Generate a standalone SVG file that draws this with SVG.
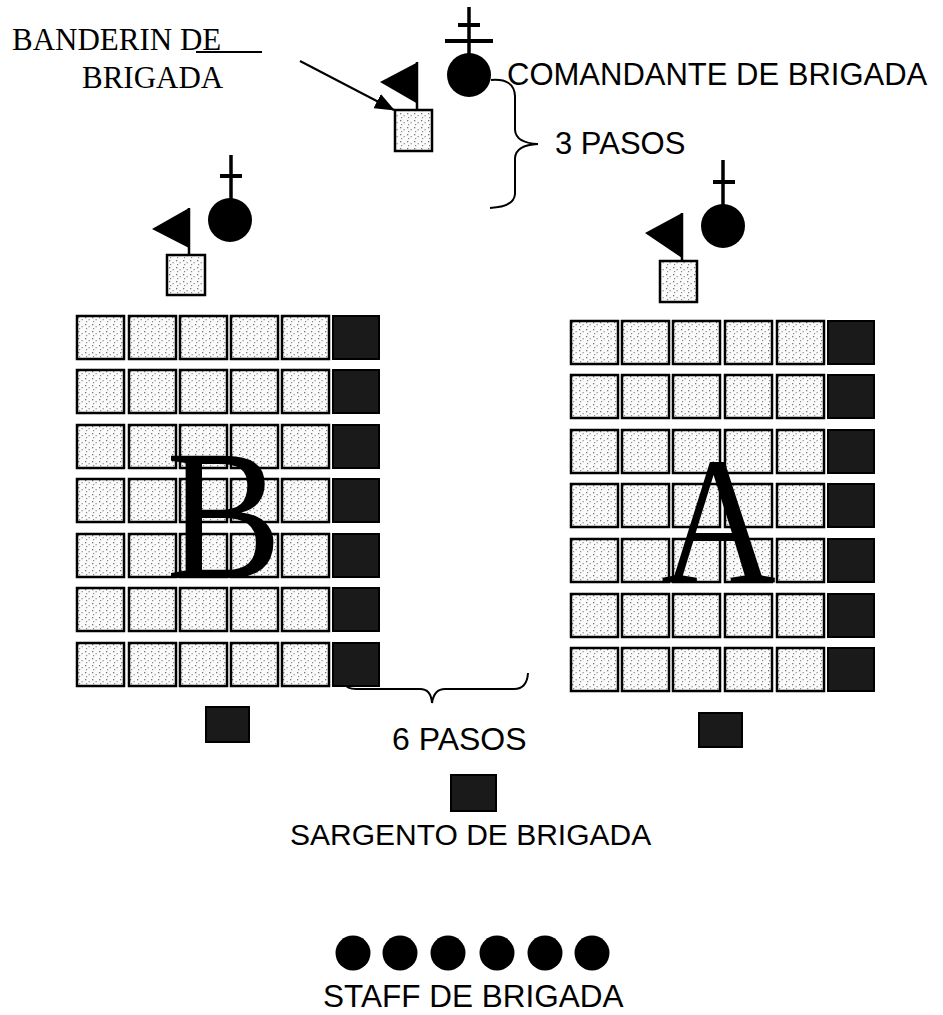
<svg xmlns="http://www.w3.org/2000/svg" xmlns:xlink="http://www.w3.org/1999/xlink" width="943" height="1015" viewBox="0 0 943 1015">
<style>
.sans{font-family:"Liberation Sans",Arial,sans-serif;fill:#000}
.serif{font-family:"Liberation Serif","Times New Roman",serif;fill:#000}
.light{fill:url(#stip);stroke:#000;stroke-width:2.5}
.dark{fill:#1a1a1a;stroke:#000;stroke-width:2}
.blk{fill:#000}
.ln{stroke:#000;fill:none}
</style>
<defs>
<pattern id="stip" width="7" height="7" patternUnits="userSpaceOnUse">
<rect width="7" height="7" fill="#fbfbfb"/>
<rect x="1" y="1" width="1.3" height="1.3" fill="#777"/>
<rect x="4.5" y="3" width="1.3" height="1.3" fill="#999"/>
<rect x="2" y="5" width="1.2" height="1.2" fill="#888"/>
</pattern>
<rect id="lc" width="47" height="43" class="light"/>
<rect id="dc" width="46" height="43" class="dark"/>
<marker id="ah" markerUnits="userSpaceOnUse" markerWidth="20" markerHeight="16" refX="19" refY="8" orient="auto">
<path d="M0,0 L20,8 L0,16 Z" fill="#000"/>
</marker>
</defs>
<rect width="943" height="1015" fill="#fff"/>

<g id="connectors">
<line class="ln" x1="300" y1="61" x2="394" y2="110" stroke-width="2" marker-end="url(#ah)"/>
<path class="ln" stroke-width="2" d="M491 80 Q514 78 515 96 L515 130 Q516 143 538 144 Q516 145 515 158 L515 194 Q514 207 490 208"/>
<path class="ln" stroke-width="2" d="M345 684 Q347 689 356 689 L420 689 Q431 689 432 703 Q434 689 445 689 L514 689 Q527 689 528 673"/>
</g>

<g id="banderin-label">
<text class="serif" x="12" y="50" font-size="31">BANDERIN DE</text>
<line class="ln" x1="196" y1="52" x2="262" y2="52" stroke-width="2"/>
<text class="serif" x="82" y="88" font-size="31">BRIGADA</text>
</g>

<g id="banderin-brigada">
<polygon class="blk" points="380,82 418,62 418,104"/>
<line class="ln" x1="417" y1="62" x2="417" y2="110" stroke-width="2.5"/>
<rect x="395" y="110" width="37" height="41" class="light"/>
</g>

<g id="comandante-brigada">
<line class="ln" x1="469" y1="7" x2="469" y2="55" stroke-width="3.5"/>
<line class="ln" x1="458" y1="25" x2="480" y2="25" stroke-width="4"/>
<line class="ln" x1="445" y1="41" x2="493" y2="41" stroke-width="4"/>
<circle class="blk" cx="469" cy="75" r="22"/>
<text class="sans" x="507" y="85" font-size="31">COMANDANTE DE BRIGADA</text>
</g>

<g id="label-3-pasos">
<text class="sans" x="555" y="154" font-size="31">3 PASOS</text>
</g>

<g id="jefe-b">
<line class="ln" x1="231" y1="155" x2="231" y2="200" stroke-width="3.5"/>
<line class="ln" x1="220" y1="176" x2="242" y2="176" stroke-width="4"/>
<circle class="blk" cx="230" cy="220" r="22"/>
<polygon class="blk" points="152,229 189,208 189,248"/>
<line class="ln" x1="189" y1="208" x2="189" y2="255" stroke-width="2.5"/>
<rect x="167" y="255" width="38" height="40" class="light"/>
</g>

<g id="jefe-a">
<line class="ln" x1="723" y1="160" x2="723" y2="206" stroke-width="3.5"/>
<line class="ln" x1="713" y1="182" x2="735" y2="182" stroke-width="4"/>
<circle class="blk" cx="723" cy="226" r="22"/>
<polygon class="blk" points="645,233 682,213 682,258"/>
<line class="ln" x1="682" y1="213" x2="682" y2="261" stroke-width="2.5"/>
<rect x="660" y="261" width="37" height="41" class="light"/>
</g>

<g id="seccion-b">
<use xlink:href="#lc" x="77" y="316"/><use xlink:href="#lc" x="129" y="316"/><use xlink:href="#lc" x="180" y="316"/><use xlink:href="#lc" x="231" y="316"/><use xlink:href="#lc" x="282" y="316"/><use xlink:href="#dc" x="333" y="316"/>
<use xlink:href="#lc" x="77" y="370"/><use xlink:href="#lc" x="129" y="370"/><use xlink:href="#lc" x="180" y="370"/><use xlink:href="#lc" x="231" y="370"/><use xlink:href="#lc" x="282" y="370"/><use xlink:href="#dc" x="333" y="370"/>
<use xlink:href="#lc" x="77" y="425"/><use xlink:href="#lc" x="129" y="425"/><use xlink:href="#lc" x="180" y="425"/><use xlink:href="#lc" x="231" y="425"/><use xlink:href="#lc" x="282" y="425"/><use xlink:href="#dc" x="333" y="425"/>
<use xlink:href="#lc" x="77" y="479"/><use xlink:href="#lc" x="129" y="479"/><use xlink:href="#lc" x="180" y="479"/><use xlink:href="#lc" x="231" y="479"/><use xlink:href="#lc" x="282" y="479"/><use xlink:href="#dc" x="333" y="479"/>
<use xlink:href="#lc" x="77" y="534"/><use xlink:href="#lc" x="129" y="534"/><use xlink:href="#lc" x="180" y="534"/><use xlink:href="#lc" x="231" y="534"/><use xlink:href="#lc" x="282" y="534"/><use xlink:href="#dc" x="333" y="534"/>
<use xlink:href="#lc" x="77" y="588"/><use xlink:href="#lc" x="129" y="588"/><use xlink:href="#lc" x="180" y="588"/><use xlink:href="#lc" x="231" y="588"/><use xlink:href="#lc" x="282" y="588"/><use xlink:href="#dc" x="333" y="588"/>
<use xlink:href="#lc" x="77" y="643"/><use xlink:href="#lc" x="129" y="643"/><use xlink:href="#lc" x="180" y="643"/><use xlink:href="#lc" x="231" y="643"/><use xlink:href="#lc" x="282" y="643"/><use xlink:href="#dc" x="333" y="643"/>
<text class="serif" x="166" y="578" font-size="186" textLength="116" lengthAdjust="spacingAndGlyphs">B</text>
<rect x="206" y="707" width="43" height="35" class="dark"/>
</g>

<g id="seccion-a">
<use xlink:href="#lc" x="571" y="321"/><use xlink:href="#lc" x="622" y="321"/><use xlink:href="#lc" x="673" y="321"/><use xlink:href="#lc" x="725" y="321"/><use xlink:href="#lc" x="777" y="321"/><use xlink:href="#dc" x="828" y="321"/>
<use xlink:href="#lc" x="571" y="375"/><use xlink:href="#lc" x="622" y="375"/><use xlink:href="#lc" x="673" y="375"/><use xlink:href="#lc" x="725" y="375"/><use xlink:href="#lc" x="777" y="375"/><use xlink:href="#dc" x="828" y="375"/>
<use xlink:href="#lc" x="571" y="430"/><use xlink:href="#lc" x="622" y="430"/><use xlink:href="#lc" x="673" y="430"/><use xlink:href="#lc" x="725" y="430"/><use xlink:href="#lc" x="777" y="430"/><use xlink:href="#dc" x="828" y="430"/>
<use xlink:href="#lc" x="571" y="484"/><use xlink:href="#lc" x="622" y="484"/><use xlink:href="#lc" x="673" y="484"/><use xlink:href="#lc" x="725" y="484"/><use xlink:href="#lc" x="777" y="484"/><use xlink:href="#dc" x="828" y="484"/>
<use xlink:href="#lc" x="571" y="539"/><use xlink:href="#lc" x="622" y="539"/><use xlink:href="#lc" x="673" y="539"/><use xlink:href="#lc" x="725" y="539"/><use xlink:href="#lc" x="777" y="539"/><use xlink:href="#dc" x="828" y="539"/>
<use xlink:href="#lc" x="571" y="594"/><use xlink:href="#lc" x="622" y="594"/><use xlink:href="#lc" x="673" y="594"/><use xlink:href="#lc" x="725" y="594"/><use xlink:href="#lc" x="777" y="594"/><use xlink:href="#dc" x="828" y="594"/>
<use xlink:href="#lc" x="571" y="648"/><use xlink:href="#lc" x="622" y="648"/><use xlink:href="#lc" x="673" y="648"/><use xlink:href="#lc" x="725" y="648"/><use xlink:href="#lc" x="777" y="648"/><use xlink:href="#dc" x="828" y="648"/>
<text class="serif" x="661" y="583" font-size="183" textLength="115" lengthAdjust="spacingAndGlyphs">A</text>
<rect x="699" y="713" width="43" height="34" class="dark"/>
</g>

<g id="label-6-pasos">
<text class="sans" x="392" y="750" font-size="32">6 PASOS</text>
</g>

<g id="sargento-brigada">
<rect x="451" y="775" width="45" height="36" class="dark"/>
<text class="sans" x="290" y="845" font-size="30">SARGENTO DE BRIGADA</text>
</g>

<g id="staff-brigada">
<circle class="blk" cx="353" cy="953" r="17.5"/>
<circle class="blk" cx="400" cy="953" r="17.5"/>
<circle class="blk" cx="448" cy="953" r="17.5"/>
<circle class="blk" cx="497" cy="953" r="17.5"/>
<circle class="blk" cx="545" cy="953" r="17.5"/>
<circle class="blk" cx="592" cy="953" r="17.5"/>
<text class="sans" x="323" y="1007" font-size="31.5">STAFF DE BRIGADA</text>
</g>
</svg>
